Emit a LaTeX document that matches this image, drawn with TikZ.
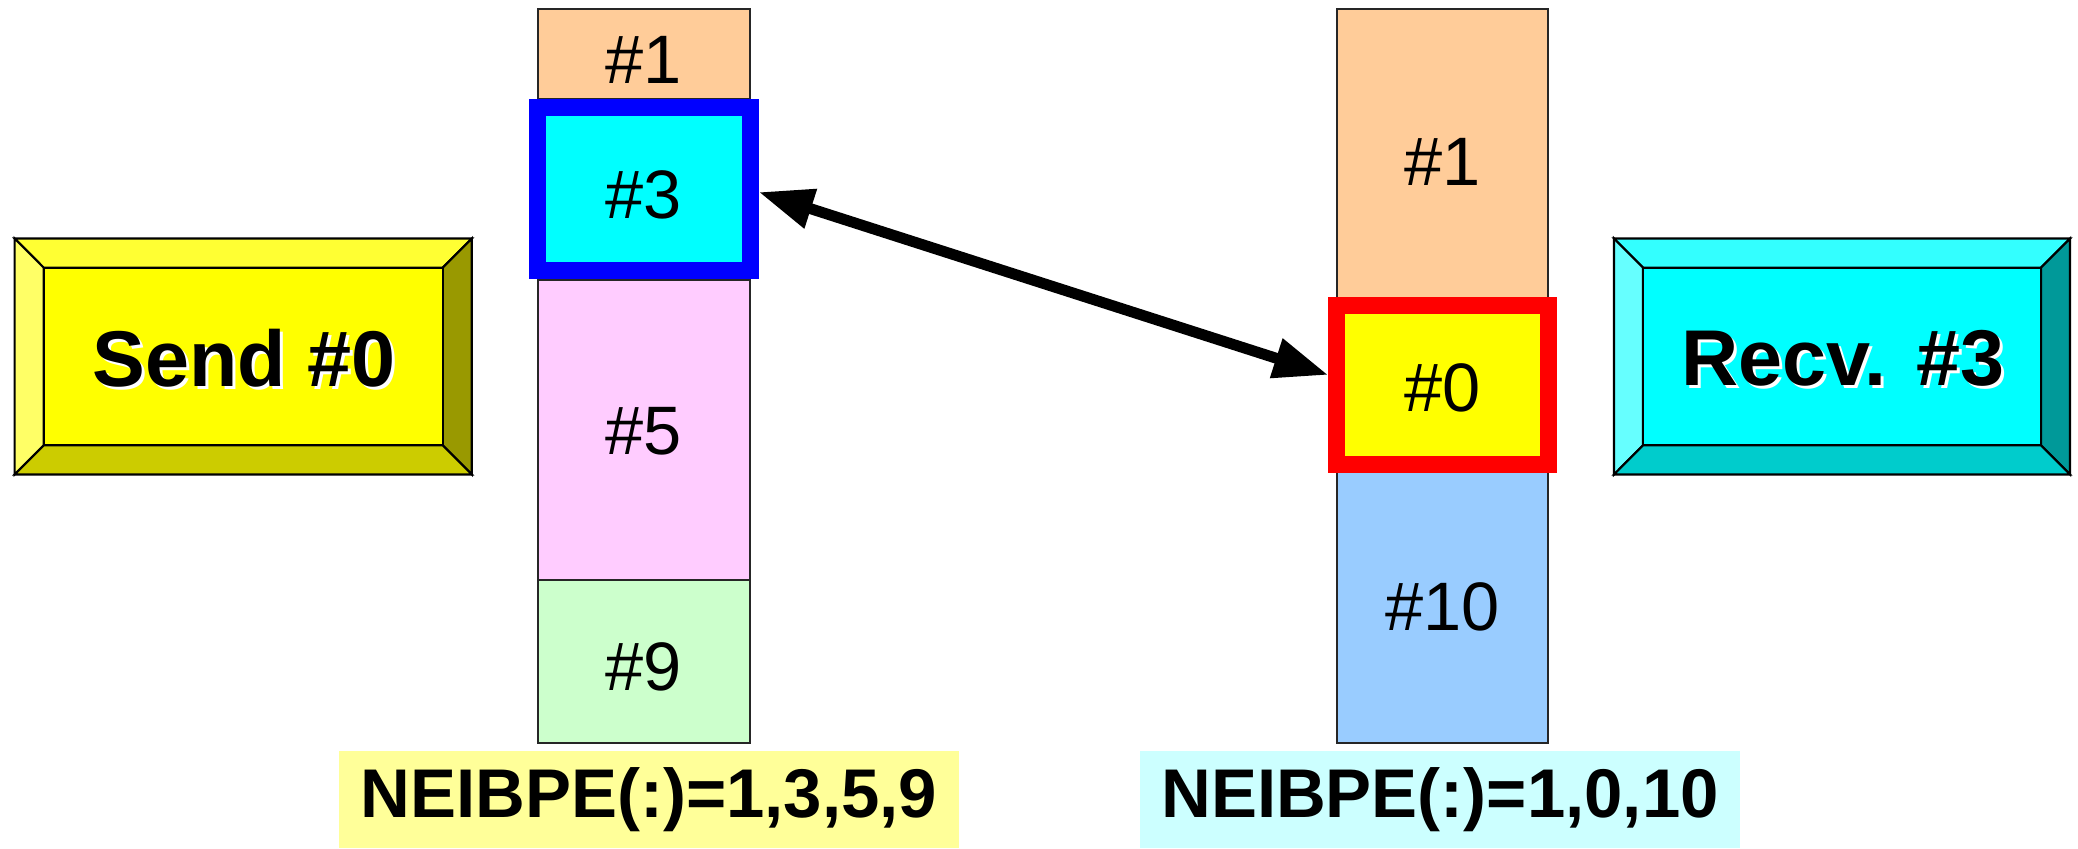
\documentclass[tikz,border=0pt]{standalone}
\usepackage{fontspec}
\setmainfont{Liberation Sans}
\usetikzlibrary{arrows.meta,calc}
\definecolor{peach}{HTML}{FFCC99}
\definecolor{pinkc}{HTML}{FFCCFF}
\definecolor{greenc}{HTML}{CCFFCC}
\definecolor{bluec}{HTML}{99CCFF}
\definecolor{purecyan}{HTML}{00FFFF}
\definecolor{pureyellow}{HTML}{FFFF00}
\definecolor{pureblue}{HTML}{0000FF}
\definecolor{purered}{HTML}{FF0000}
\definecolor{labyellow}{HTML}{FFFF99}
\definecolor{labcyan}{HTML}{CCFFFF}
\definecolor{sytop}{HTML}{FFFF33}
\definecolor{syleft}{HTML}{FFFF66}
\definecolor{syright}{HTML}{999900}
\definecolor{sybot}{HTML}{CCCC00}
\definecolor{rctop}{HTML}{33FFFF}
\definecolor{rcleft}{HTML}{66FFFF}
\definecolor{rcright}{HTML}{009999}
\definecolor{rcbot}{HTML}{00CCCC}
\begin{document}
\begin{tikzpicture}[x=0.01cm,y=-0.01cm,
  cellbox/.style={draw=black!85, line width=0.45pt, inner sep=0pt, outer sep=0pt},
  leftcell/.style={cellbox, minimum width=2.12cm},
  rightcell/.style={cellbox, minimum width=2.11cm},
  celltext/.style={inner sep=0pt, font=\fontsize{19.5pt}{23pt}\selectfont},
  framebox/.style={line width=4.84pt, inner sep=0pt},
  bevel/.style={draw=black, line width=0.6pt, line join=miter},
  facebox/.style={draw=black, line width=0.6pt, inner sep=0pt, outer sep=0pt},
  bigtext/.style={inner sep=0pt, font=\fontsize{22.5pt}{26pt}\selectfont\bfseries},
  labbox/.style={inner sep=0pt, minimum height=0.97cm, font=\fontsize{19.6pt}{23pt}\selectfont\bfseries},
  conn/.style={line width=3.1pt, {Triangle[length=15.6pt,width=11pt]}-{Triangle[length=15.6pt,width=11pt]}}
]
\useasboundingbox (0,0) rectangle (2078,848);

% ---- Send box (bevelled) ----
\filldraw[bevel, fill=sytop] (14.6,238.5) -- (471.8,238.5) -- (442.6,267.7) -- (43.7,267.7) -- cycle;
\filldraw[bevel, fill=syleft] (14.6,238.5) -- (43.7,267.7) -- (43.7,445.3) -- (14.6,474.5) -- cycle;
\filldraw[bevel, fill=syright] (471.8,238.5) -- (471.8,474.5) -- (442.6,445.3) -- (442.6,267.7) -- cycle;
\filldraw[bevel, fill=sybot] (14.6,474.5) -- (43.7,445.3) -- (442.6,445.3) -- (471.8,474.5) -- cycle;
\node[facebox, fill=pureyellow, minimum width=3.989cm, minimum height=1.776cm] (sendface) at (243.15,356.5) {};
\node[bigtext, text=white] (sendshadow) at (247,361) {Send \#0};
\node[bigtext] (send) at (244,358) {Send \#0};

% ---- Recv box (bevelled) ----
\filldraw[bevel, fill=rctop] (1614,238.5) -- (2070,238.5) -- (2041,267.7) -- (1643,267.7) -- cycle;
\filldraw[bevel, fill=rcleft] (1614,238.5) -- (1643,267.7) -- (1643,445.3) -- (1614,474.5) -- cycle;
\filldraw[bevel, fill=rcright] (2070,238.5) -- (2070,474.5) -- (2041,445.3) -- (2041,267.7) -- cycle;
\filldraw[bevel, fill=rcbot] (1614,474.5) -- (1643,445.3) -- (2041,445.3) -- (2070,474.5) -- cycle;
\node[facebox, fill=purecyan, minimum width=3.98cm, minimum height=1.776cm] (recvface) at (1842,356.5) {};
\node[bigtext, text=white] (recvshadow) at (1846,361) {Recv. \#3};
\node[bigtext] (recv) at (1843,358) {Recv. \#3};

% ---- Left column ----
\node[leftcell, fill=peach, minimum height=0.90cm] (l1) at (644,54) {};
\node[leftcell, fill=purecyan, minimum height=1.81cm] (l3) at (644,189.5) {};
\node[leftcell, fill=pinkc, minimum height=3.00cm] (l5) at (644,430) {};
\node[leftcell, fill=greenc, minimum height=1.63cm] (l9) at (644,661.5) {};
\node[framebox, draw=pureblue, minimum width=2.12cm, minimum height=1.63cm] (l3frame) at (644,189) {};
\node[celltext] (l1t) at (644,60) {\#1};
\node[celltext] (l3t) at (644,195) {\#3};
\node[celltext] (l5t) at (644,431) {\#5};
\node[celltext] (l9t) at (644,667) {\#9};

% ---- Right column ----
\node[rightcell, fill=peach, minimum height=2.96cm] (r1) at (1442.5,157) {};
\node[rightcell, fill=pureyellow, minimum height=1.60cm] (r0) at (1442.5,385) {};
\node[rightcell, fill=bluec, minimum height=2.78cm] (r10) at (1442.5,604) {};
\node[framebox, draw=purered, minimum width=2.11cm, minimum height=1.59cm] (r0frame) at (1442.5,385) {};
\node[celltext] (r1t) at (1442.5,162) {\#1};
\node[celltext] (r0t) at (1442.5,388) {\#0};
\node[celltext] (r10t) at (1442.5,607) {\#10};

% ---- connector ----
\draw[conn] ($(l3frame.east)+(0,3)$) -- ($(r0frame.west)+(0,-10)$);

% ---- bottom labels ----
\node[labbox, fill=labyellow, minimum width=6.20cm] (neil) at (649,799.5) {NEIBPE(:)=1,3,5,9};
\node[labbox, fill=labcyan, minimum width=6.00cm] (neir) at (1440,799.5) {NEIBPE(:)=1,0,10};
\end{tikzpicture}
\end{document}
